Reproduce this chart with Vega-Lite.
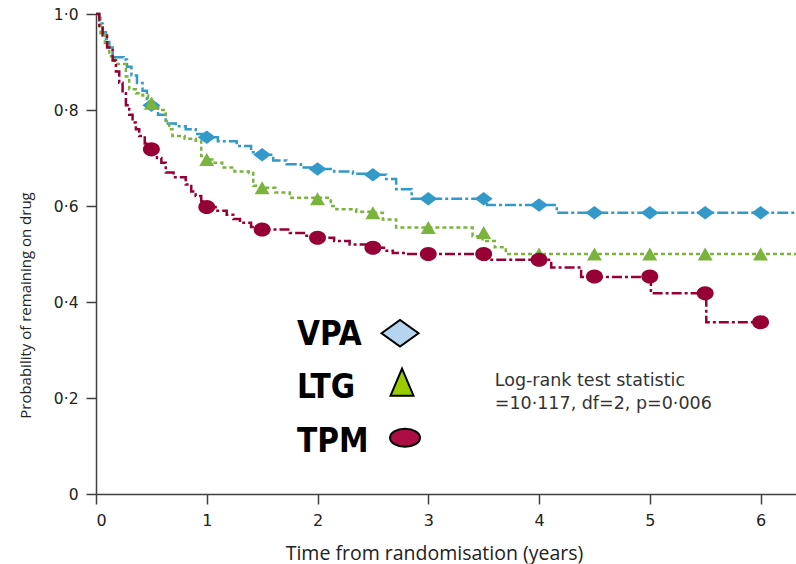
{
  "$schema": "https://vega.github.io/schema/vega-lite/v6.json",
  "autosize": "none",
  "width": 700,
  "height": 480,
  "padding": {"left": 96, "top": 14, "right": 0, "bottom": 70},
  "background": "white",
  "config": {"view": {"stroke": null}, "font": "Open Sans"},
  "datasets": {
    "curves": [
      {"g":"VPA","t":0,"s":1},{"g":"VPA","t":0.03,"s":0.98},{"g":"VPA","t":0.06,"s":0.962},{"g":"VPA","t":0.09,"s":0.948},{"g":"VPA","t":0.12,"s":0.93},{"g":"VPA","t":0.15,"s":0.91},{"g":"VPA","t":0.25,"s":0.905},{"g":"VPA","t":0.28,"s":0.89},{"g":"VPA","t":0.32,"s":0.872},{"g":"VPA","t":0.37,"s":0.856},{"g":"VPA","t":0.42,"s":0.84},{"g":"VPA","t":0.46,"s":0.823},{"g":"VPA","t":0.5,"s":0.81},{"g":"VPA","t":0.56,"s":0.79},{"g":"VPA","t":0.63,"s":0.772},{"g":"VPA","t":0.72,"s":0.766},{"g":"VPA","t":0.81,"s":0.76},{"g":"VPA","t":0.9,"s":0.75},{"g":"VPA","t":0.98,"s":0.743},{"g":"VPA","t":1.1,"s":0.735},{"g":"VPA","t":1.27,"s":0.725},{"g":"VPA","t":1.4,"s":0.712},{"g":"VPA","t":1.48,"s":0.707},{"g":"VPA","t":1.6,"s":0.695},{"g":"VPA","t":1.72,"s":0.687},{"g":"VPA","t":1.85,"s":0.68},{"g":"VPA","t":1.98,"s":0.677},{"g":"VPA","t":2.15,"s":0.672},{"g":"VPA","t":2.32,"s":0.667},{"g":"VPA","t":2.48,"s":0.665},{"g":"VPA","t":2.62,"s":0.656},{"g":"VPA","t":2.71,"s":0.635},{"g":"VPA","t":2.85,"s":0.615},{"g":"VPA","t":3.53,"s":0.602},{"g":"VPA","t":4.16,"s":0.586},{"g":"VPA","t":6.32,"s":0.586},
      {"g":"LTG","t":0,"s":1},{"g":"LTG","t":0.04,"s":0.96},{"g":"LTG","t":0.08,"s":0.934},{"g":"LTG","t":0.12,"s":0.912},{"g":"LTG","t":0.17,"s":0.896},{"g":"LTG","t":0.27,"s":0.87},{"g":"LTG","t":0.3,"s":0.843},{"g":"LTG","t":0.36,"s":0.835},{"g":"LTG","t":0.42,"s":0.83},{"g":"LTG","t":0.47,"s":0.818},{"g":"LTG","t":0.52,"s":0.81},{"g":"LTG","t":0.56,"s":0.8},{"g":"LTG","t":0.63,"s":0.777},{"g":"LTG","t":0.66,"s":0.76},{"g":"LTG","t":0.69,"s":0.746},{"g":"LTG","t":0.8,"s":0.74},{"g":"LTG","t":0.9,"s":0.736},{"g":"LTG","t":0.95,"s":0.704},{"g":"LTG","t":1.0,"s":0.697},{"g":"LTG","t":1.07,"s":0.69},{"g":"LTG","t":1.14,"s":0.68},{"g":"LTG","t":1.25,"s":0.672},{"g":"LTG","t":1.38,"s":0.669},{"g":"LTG","t":1.42,"s":0.642},{"g":"LTG","t":1.5,"s":0.638},{"g":"LTG","t":1.62,"s":0.628},{"g":"LTG","t":1.75,"s":0.617},{"g":"LTG","t":2.12,"s":0.6},{"g":"LTG","t":2.17,"s":0.593},{"g":"LTG","t":2.35,"s":0.588},{"g":"LTG","t":2.5,"s":0.586},{"g":"LTG","t":2.59,"s":0.572},{"g":"LTG","t":2.71,"s":0.555},{"g":"LTG","t":3.4,"s":0.537},{"g":"LTG","t":3.49,"s":0.527},{"g":"LTG","t":3.6,"s":0.514},{"g":"LTG","t":3.7,"s":0.5},{"g":"LTG","t":6.32,"s":0.5},
      {"g":"TPM","t":0,"s":1},{"g":"TPM","t":0.03,"s":0.975},{"g":"TPM","t":0.06,"s":0.955},{"g":"TPM","t":0.1,"s":0.93},{"g":"TPM","t":0.15,"s":0.903},{"g":"TPM","t":0.18,"s":0.88},{"g":"TPM","t":0.21,"s":0.857},{"g":"TPM","t":0.24,"s":0.835},{"g":"TPM","t":0.27,"s":0.81},{"g":"TPM","t":0.3,"s":0.79},{"g":"TPM","t":0.33,"s":0.774},{"g":"TPM","t":0.36,"s":0.76},{"g":"TPM","t":0.39,"s":0.746},{"g":"TPM","t":0.44,"s":0.73},{"g":"TPM","t":0.48,"s":0.718},{"g":"TPM","t":0.55,"s":0.7},{"g":"TPM","t":0.59,"s":0.69},{"g":"TPM","t":0.63,"s":0.67},{"g":"TPM","t":0.7,"s":0.66},{"g":"TPM","t":0.81,"s":0.645},{"g":"TPM","t":0.86,"s":0.63},{"g":"TPM","t":0.9,"s":0.621},{"g":"TPM","t":0.95,"s":0.61},{"g":"TPM","t":0.99,"s":0.598},{"g":"TPM","t":1.08,"s":0.59},{"g":"TPM","t":1.18,"s":0.582},{"g":"TPM","t":1.24,"s":0.573},{"g":"TPM","t":1.3,"s":0.565},{"g":"TPM","t":1.4,"s":0.556},{"g":"TPM","t":1.48,"s":0.551},{"g":"TPM","t":1.75,"s":0.544},{"g":"TPM","t":1.9,"s":0.538},{"g":"TPM","t":2.0,"s":0.534},{"g":"TPM","t":2.15,"s":0.527},{"g":"TPM","t":2.29,"s":0.52},{"g":"TPM","t":2.45,"s":0.513},{"g":"TPM","t":2.6,"s":0.507},{"g":"TPM","t":2.68,"s":0.502},{"g":"TPM","t":2.8,"s":0.5},{"g":"TPM","t":3.53,"s":0.488},{"g":"TPM","t":4.11,"s":0.472},{"g":"TPM","t":4.38,"s":0.452},{"g":"TPM","t":5.01,"s":0.418},{"g":"TPM","t":5.51,"s":0.358},{"g":"TPM","t":6.0,"s":0.358}
    ],
    "markers": [
      {"g":"VPA","t":0.5,"s":0.81},{"g":"VPA","t":1,"s":0.743},{"g":"VPA","t":1.5,"s":0.707},{"g":"VPA","t":2,"s":0.677},{"g":"VPA","t":2.5,"s":0.665},{"g":"VPA","t":3,"s":0.615},{"g":"VPA","t":3.5,"s":0.615},{"g":"VPA","t":4,"s":0.602},{"g":"VPA","t":4.5,"s":0.586},{"g":"VPA","t":5,"s":0.586},{"g":"VPA","t":5.5,"s":0.586},{"g":"VPA","t":6,"s":0.586},
      {"g":"LTG","t":0.5,"s":0.814},{"g":"LTG","t":1,"s":0.697},{"g":"LTG","t":1.5,"s":0.638},{"g":"LTG","t":2,"s":0.615},{"g":"LTG","t":2.5,"s":0.586},{"g":"LTG","t":3,"s":0.555},{"g":"LTG","t":3.5,"s":0.545},{"g":"LTG","t":4,"s":0.5},{"g":"LTG","t":4.5,"s":0.5},{"g":"LTG","t":5,"s":0.5},{"g":"LTG","t":5.5,"s":0.5},{"g":"LTG","t":6,"s":0.5},
      {"g":"TPM","t":0.5,"s":0.718},{"g":"TPM","t":1,"s":0.598},{"g":"TPM","t":1.5,"s":0.551},{"g":"TPM","t":2,"s":0.534},{"g":"TPM","t":2.5,"s":0.513},{"g":"TPM","t":3,"s":0.5},{"g":"TPM","t":3.5,"s":0.5},{"g":"TPM","t":4,"s":0.488},{"g":"TPM","t":4.5,"s":0.453},{"g":"TPM","t":5,"s":0.453},{"g":"TPM","t":5.5,"s":0.418},{"g":"TPM","t":6,"s":0.358}
    ],
    "legendLabels": [
      {"g":"VPA","t":1.815,"s":0.31},
      {"g":"LTG","t":1.815,"s":0.2},
      {"g":"TPM","t":1.815,"s":0.0875}
    ],
    "legendSymbols": [
      {"g":"VPA","t":2.745,"s":0.335},
      {"g":"LTG","t":2.763,"s":0.233},
      {"g":"TPM","t":2.79,"s":0.117}
    ],
    "note": [
      {"line":"Log-rank test statistic","t":3.6,"s":0.225},
      {"line":"=10·117, df=2, p=0·006","t":3.6,"s":0.177}
    ]
  },
  "layer": [
    {
      "data": {"name": "curves"},
      "mark": {"type": "line", "interpolate": "step-after", "strokeWidth": 2.5},
      "encoding": {
        "x": {
          "field": "t", "type": "quantitative",
          "scale": {"domain": [0, 6.32], "nice": false, "zero": false},
          "axis": {
            "values": [0,1,2,3,4,5,6],
            "format": "d",
            "grid": false,
            "title": "Time from randomisation (years)",
            "titleFont": "Open Sans", "titleFontSize": 19.5, "titleFontWeight": "normal", "titleColor": "#222",
            "titleX": 338, "titleY": 59, "titleBaseline": "middle",
            "labelFont": "DejaVu Sans", "labelFontSize": 16, "labelColor": "#222", "labelPadding": 8,
            "domainColor": "#404040", "domainWidth": 1.5, "tickColor": "#404040", "tickWidth": 1.5, "tickSize": 10
          }
        },
        "y": {
          "field": "s", "type": "quantitative",
          "scale": {"domain": [0, 1], "nice": false},
          "axis": {
            "values": [0,0.2,0.4,0.6,0.8,1],
            "grid": false,
            "labelExpr": "datum.value == 0 ? '0' : replace(format(datum.value, '.1f'), '.', '·')",
            "title": "Probability of remaining on drug",
            "titleFont": "Open Sans", "titleFontSize": 15, "titleFontWeight": "normal", "titleColor": "#222",
            "titleX": -71, "titleY": 291, "titleAngle": -90, "titleAlign": "center", "titleBaseline": "middle",
            "labelFont": "DejaVu Sans", "labelFontSize": 15.5, "labelColor": "#222", "labelPadding": 8,
            "domainColor": "#404040", "domainWidth": 1.5, "tickColor": "#404040", "tickWidth": 1.5, "tickSize": 10
          }
        },
        "detail": {"field": "g"},
        "stroke": {
          "field": "g", "type": "nominal", "legend": null,
          "scale": {"domain": ["VPA","LTG","TPM"], "range": ["#3399c8","#7ab33e","#960035"]}
        },
        "strokeDash": {
          "field": "g", "type": "nominal", "legend": null,
          "scale": {"domain": ["VPA","LTG","TPM"], "range": [[11,3,3,3],[4,3],[10,3,3,3]]}
        }
      }
    },
    {
      "data": {"name": "markers"},
      "mark": {"type": "point", "filled": true, "size": 324, "opacity": 1, "strokeWidth": 0},
      "encoding": {
        "x": {"field": "t", "type": "quantitative"},
        "y": {"field": "s", "type": "quantitative"},
        "color": {
          "field": "g", "type": "nominal", "legend": null,
          "scale": {"domain": ["VPA","LTG","TPM"], "range": ["#3399c8","#7ab33e","#960035"]}
        },
        "shape": {
          "field": "g", "type": "nominal", "legend": null,
          "scale": {"domain": ["VPA","LTG","TPM"], "range": [
            "M-1,0L0,-0.75L1,0L0,0.75Z",
            "M0,-0.72L0.83,0.72L-0.83,0.72Z",
            "M-0.94,0A0.94,0.78,0,1,1,0.94,0A0.94,0.78,0,1,1,-0.94,0Z"
          ]}
        }
      }
    },
    {
      "data": {"name": "legendLabels"},
      "mark": {"type": "text", "align": "left", "baseline": "alphabetic", "font": "DejaVu Sans Condensed", "fontWeight": "bold", "fontSize": 33, "color": "#000"},
      "encoding": {
        "x": {"field": "t", "type": "quantitative"},
        "y": {"field": "s", "type": "quantitative"},
        "text": {"field": "g"}
      }
    },
    {
      "data": {"name": "legendSymbols"},
      "transform": [{"filter": "datum.g == 'VPA'"}],
      "mark": {"type": "point", "filled": true, "fill": "#b5d5ee", "stroke": "#000", "strokeWidth": 2, "opacity": 1, "size": 1369, "shape": "M-1,0L0,-0.72L1,0L0,0.72Z"},
      "encoding": {
        "x": {"field": "t", "type": "quantitative"},
        "y": {"field": "s", "type": "quantitative"}
      }
    },
    {
      "data": {"name": "legendSymbols"},
      "transform": [{"filter": "datum.g == 'LTG'"}],
      "mark": {"type": "point", "filled": true, "fill": "#99cc00", "stroke": "#000", "strokeWidth": 2, "opacity": 1, "size": 729, "shape": "M0,-1L0.85,1L-0.85,1Z"},
      "encoding": {
        "x": {"field": "t", "type": "quantitative"},
        "y": {"field": "s", "type": "quantitative"}
      }
    },
    {
      "data": {"name": "legendSymbols"},
      "transform": [{"filter": "datum.g == 'TPM'"}],
      "mark": {"type": "point", "filled": true, "fill": "#ad0d45", "stroke": "#000", "strokeWidth": 2, "opacity": 1, "size": 900, "shape": "M-1,0A1,0.6,0,1,1,1,0A1,0.6,0,1,1,-1,0Z"},
      "encoding": {
        "x": {"field": "t", "type": "quantitative"},
        "y": {"field": "s", "type": "quantitative"}
      }
    },
    {
      "data": {"name": "note"},
      "mark": {"type": "text", "align": "left", "baseline": "alphabetic", "font": "DejaVu Sans", "fontSize": 17.5, "color": "#333"},
      "encoding": {
        "x": {"field": "t", "type": "quantitative"},
        "y": {"field": "s", "type": "quantitative"},
        "text": {"field": "line"}
      }
    }
  ]
}
